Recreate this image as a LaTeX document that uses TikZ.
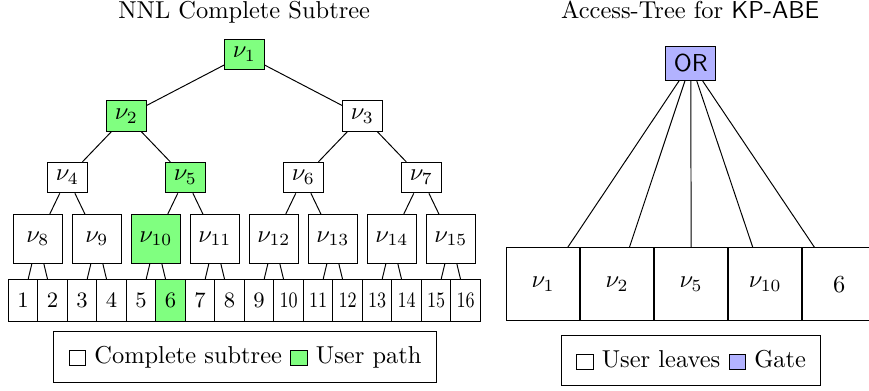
\documentclass[tikz,border=0pt]{standalone}
\usepackage{graphicx}
\usetikzlibrary{positioning}

\newcommand{\legsq}[1]{\tikz[baseline=1pt]\draw[fill=#1] (0,0) rectangle (6.8pt,6.4pt);}
\newcommand{\leafnum}[1]{\small\ifnum#1>9 \scalebox{0.8}[1]{#1}\else #1\fi}

\begin{document}
\begin{tikzpicture}[
    tnode/.style={draw, rectangle, fill=white},
    bnode/.style={draw, rectangle, fill=white, minimum size=0.7cm},
    leaf/.style={draw, rectangle, fill=white, minimum width=0.424cm, minimum height=0.6cm, inner sep=0pt},
    upath/.style={fill=green!50},
    gate/.style={draw, rectangle, fill=blue!30, font=\sffamily},
    rleaf/.style={draw, rectangle, minimum size=1.05cm},
    legend/.style={draw, rectangle, inner sep=6pt}]
	\useasboundingbox (0,0) rectangle (12.49,-5.606);

	% Titles
	\node[anchor=base] (ltitle) at (3.51,-0.273) {NNL Complete Subtree};
	\node[anchor=base] (rtitle) at (9.92,-0.273) {Access-Tree for \textsf{KP-ABE}};

	% Complete subtree
	\node[tnode, upath] (n1) at (3.512,-0.783) {$\nu_1$};
	\node[tnode, upath] (n2) at (1.816,-1.668) {$\nu_2$};
	\node[tnode] (n3) at (5.208,-1.668) {$\nu_3$};
	\node[tnode] (n4) at (0.968,-2.552) {$\nu_4$};
	\node[tnode, upath] (n5) at (2.664,-2.552) {$\nu_5$};
	\node[tnode] (n6) at (4.360,-2.552) {$\nu_6$};
	\node[tnode] (n7) at (6.056,-2.552) {$\nu_7$};
	\node[bnode] (n8) at (0.544,-3.433) {$\nu_8$};
	\node[bnode] (n9) at (1.392,-3.433) {$\nu_9$};
	\node[bnode, upath] (n10) at (2.240,-3.433) {$\nu_{10}$};
	\node[bnode] (n11) at (3.088,-3.433) {$\nu_{11}$};
	\node[bnode] (n12) at (3.936,-3.433) {$\nu_{12}$};
	\node[bnode] (n13) at (4.784,-3.433) {$\nu_{13}$};
	\node[bnode] (n14) at (5.632,-3.433) {$\nu_{14}$};
	\node[bnode] (n15) at (6.480,-3.433) {$\nu_{15}$};

	% Leaves
	\foreach \i in {1,2,3,4,5,7,8,9,10,11,12,13,14,15,16}
		\node[leaf] (l\i) at ({0.332+0.424*(\i-1)},-4.315) {\leafnum{\i}};
	\node[leaf, upath] (l6) at (2.452,-4.315) {\leafnum{6}};

	% Edges
	\foreach \k in {1,...,7} {
		\pgfmathtruncatemacro{\kida}{2*\k}
		\pgfmathtruncatemacro{\kidb}{2*\k+1}
		\draw (n\k) -- (n\kida);
		\draw (n\k) -- (n\kidb);
	}
	\foreach \k in {8,...,15} {
		\pgfmathtruncatemacro{\lfa}{2*\k-15}
		\pgfmathtruncatemacro{\lfb}{2*\k-14}
		\draw (n\k) -- (l\lfa);
		\draw (n\k) -- (l\lfb);
	}

	% Legend
	\node[legend, anchor=north] (lleg) at (3.522,-4.758) {\legsq{white} Complete subtree \legsq{green!50} User path};

	% Access tree
	\node[gate] (orgate) at (9.929,-0.910) {OR};
	\node[rleaf] (r1) at (7.806,-4.085) {$\nu_1$};
	\node[rleaf, right=0pt of r1] (r2) {$\nu_2$};
	\node[rleaf, right=0pt of r2] (r3) {$\nu_5$};
	\node[rleaf, right=0pt of r3] (r4) {$\nu_{10}$};
	\node[rleaf, right=0pt of r4] (r5) {6};
	\foreach \r in {1,...,5}
		\draw (orgate) -- (r\r);

	% Legend
	\node[legend, anchor=north] (rleg) at (9.933,-4.816) {\legsq{white} User leaves \legsq{blue!30} Gate};
\end{tikzpicture}
\end{document}
